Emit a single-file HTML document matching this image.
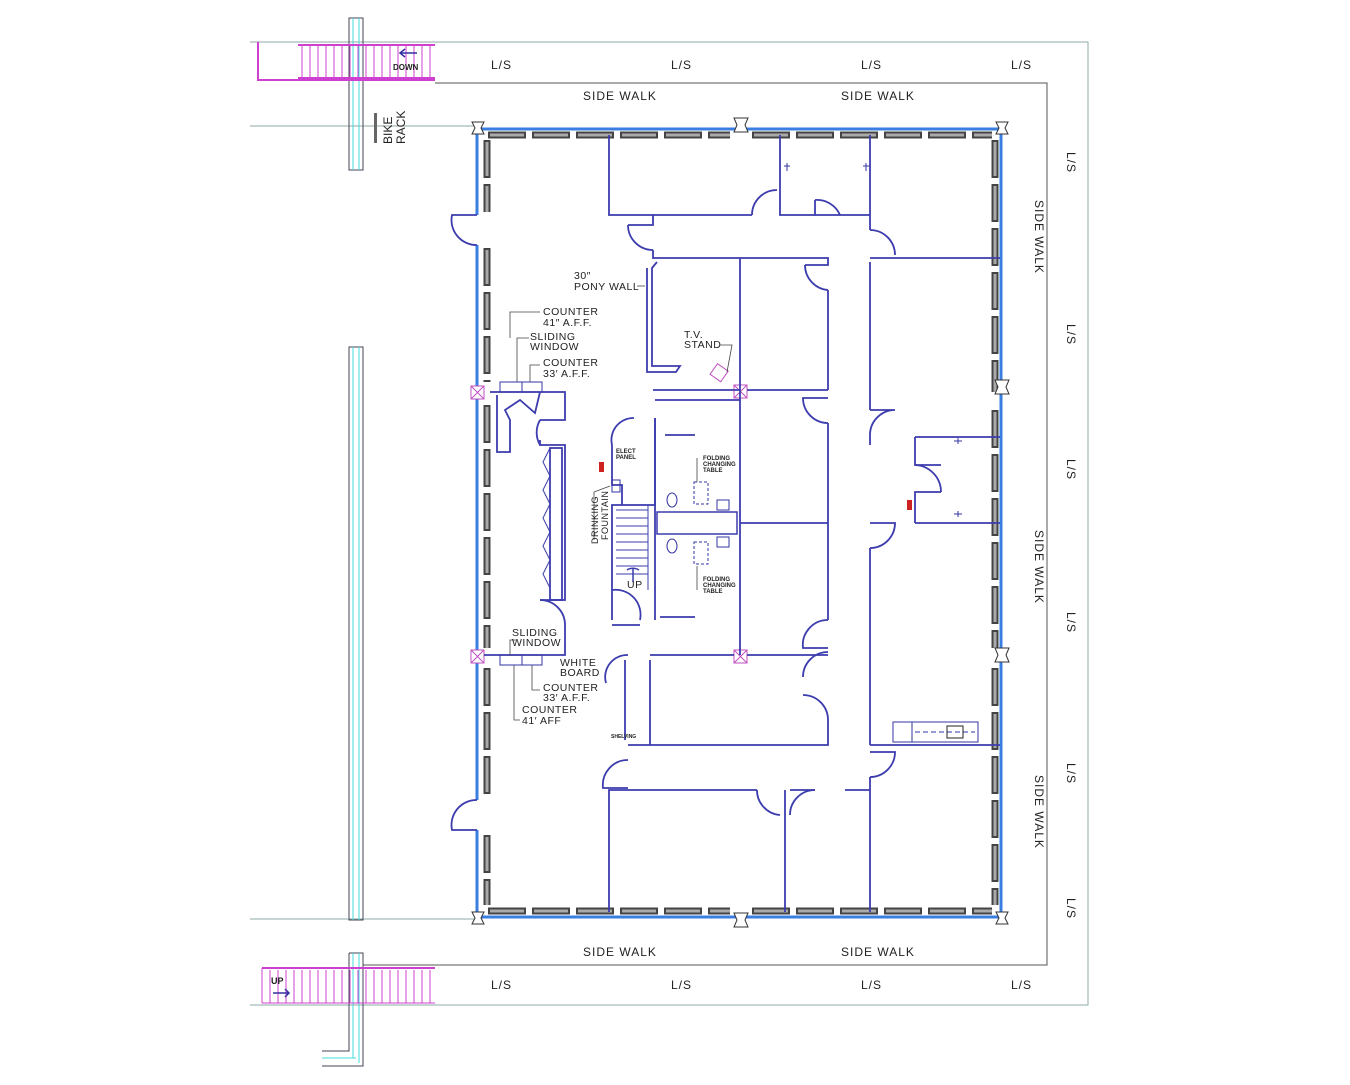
<!DOCTYPE html>
<html><head><meta charset="utf-8"><style>
html,body{margin:0;padding:0;background:#fff;}
svg text{font-family:"Liberation Sans",sans-serif;fill:#222;}
</style></head><body>
<svg width="1350" height="1080" viewBox="0 0 1350 1080" xmlns="http://www.w3.org/2000/svg">
<rect width="1350" height="1080" fill="#fff"/>
<g stroke="#8fa8a8" stroke-width="1" fill="none">
<polyline points="250,42 1088,42 1088,1005 250,1005"/>
<line x1="250" y1="126" x2="476" y2="126"/>
<line x1="250" y1="919" x2="476" y2="919"/>
</g>
<g stroke="#555" stroke-width="1" fill="none">
<polyline points="435,83 1047,83 1047,965 363,965"/>
</g>
<g stroke="#445" stroke-width="1" fill="none">
<rect x="349" y="18" width="14" height="152"/>
<rect x="349" y="347" width="14" height="573"/>
<polyline points="349,953 363,953 363,1066 322,1066"/>
<polyline points="349,953 349,1051 322,1051"/>
</g>
<g stroke="#4dd" stroke-width="1"><line x1="353" y1="18" x2="353" y2="170"/><line x1="359" y1="18" x2="359" y2="170"/>
<line x1="353" y1="347" x2="353" y2="920"/><line x1="359" y1="347" x2="359" y2="920"/>
<line x1="353" y1="953" x2="353" y2="1058"/><line x1="359" y1="953" x2="359" y2="1063"/><line x1="322" y1="1058" x2="356" y2="1058"/></g>
<g stroke="#d040d0" fill="none">
<polyline points="258,42 258,80 435,80" stroke-width="2"/>
<line x1="298" y1="45" x2="435" y2="45" stroke-width="2"/>
<line x1="298" y1="78" x2="435" y2="78" stroke-width="2"/>
<path d="M302,45V78M310,45V78M318,45V78M326,45V78M334,45V78M342,45V78M350,45V78M358,45V78M366,45V78M374,45V78M382,45V78M390,45V78M398,45V78M406,45V78M414,45V78M422,45V78M430,45V78" stroke-width="1"/>
<line x1="262" y1="968" x2="435" y2="968" stroke-width="2"/>
<line x1="262" y1="1003" x2="435" y2="1003" stroke-width="1"/>
<line x1="262" y1="968" x2="262" y2="1003"/>
<path d="M270,970V1003M278,970V1003M286,970V1003M294,970V1003M302,970V1003M310,970V1003M318,970V1003M326,970V1003M334,970V1003M342,970V1003M350,970V1003M358,970V1003M366,970V1003M374,970V1003M382,970V1003M390,970V1003M398,970V1003M406,970V1003M414,970V1003M422,970V1003M430,970V1003" stroke-width="1"/>
</g>
<g stroke="#3030a0" fill="none" stroke-width="1.5"><path d="M417,53H400M405,49L400,53L405,57"/><path d="M273,993H289M285,989L289,993L285,997"/></g>
<text x="393" y="70" font-size="8" font-weight="bold" font-family="Liberation Serif">DOWN</text>
<text x="271" y="984" font-size="9" font-weight="bold" font-family="Liberation Serif">UP</text>
<rect x="374" y="113" width="3" height="30" fill="#666"/>
<text transform="translate(392,144) rotate(-90)" font-size="12">BIKE</text>
<text transform="translate(405,144) rotate(-90)" font-size="12">RACK</text>
<g font-size="12" letter-spacing="1">
<text x="491" y="69">L/S</text><text x="671" y="69">L/S</text><text x="861" y="69">L/S</text><text x="1011" y="69">L/S</text>
<text x="491" y="989">L/S</text><text x="671" y="989">L/S</text><text x="861" y="989">L/S</text><text x="1011" y="989">L/S</text>
<text x="583" y="100">SIDE WALK</text><text x="841" y="100">SIDE WALK</text>
<text x="583" y="956">SIDE WALK</text><text x="841" y="956">SIDE WALK</text>
<text transform="translate(1067,152) rotate(90)">L/S</text>
<text transform="translate(1067,324) rotate(90)">L/S</text>
<text transform="translate(1067,459) rotate(90)">L/S</text>
<text transform="translate(1067,612) rotate(90)">L/S</text>
<text transform="translate(1067,763) rotate(90)">L/S</text>
<text transform="translate(1067,898) rotate(90)">L/S</text>
<text transform="translate(1035,200) rotate(90)">SIDE WALK</text>
<text transform="translate(1035,530) rotate(90)">SIDE WALK</text>
<text transform="translate(1035,775) rotate(90)">SIDE WALK</text>
</g>
<g stroke="#3a7ee0" stroke-width="3" fill="none">
<line x1="478" y1="129" x2="1002" y2="129"/>
<line x1="478" y1="917" x2="1002" y2="917"/>
<line x1="477" y1="129" x2="477" y2="215"/>
<line x1="477" y1="245" x2="477" y2="800"/>
<line x1="477" y1="830" x2="477" y2="917"/>
<line x1="1001" y1="129" x2="1001" y2="917"/>
</g>
<g fill="none">
<g stroke="#444" stroke-width="7" stroke-dasharray="38 6">
<line x1="488" y1="135" x2="730" y2="135"/><line x1="752" y1="135" x2="992" y2="135"/>
<line x1="488" y1="911" x2="730" y2="911"/><line x1="752" y1="911" x2="992" y2="911"/>
<line x1="487" y1="140" x2="487" y2="212"/><line x1="487" y1="248" x2="487" y2="382"/>
<line x1="487" y1="405" x2="487" y2="648"/><line x1="487" y1="668" x2="487" y2="796"/>
<line x1="487" y1="835" x2="487" y2="905"/>
<line x1="995" y1="140" x2="995" y2="392"/><line x1="995" y1="410" x2="995" y2="648"/>
<line x1="995" y1="668" x2="995" y2="905"/>
</g>
<g stroke="#aaa" stroke-width="3" stroke-dasharray="34 10" stroke-dashoffset="-2">
<line x1="488" y1="135" x2="730" y2="135"/><line x1="752" y1="135" x2="992" y2="135"/>
<line x1="488" y1="911" x2="730" y2="911"/><line x1="752" y1="911" x2="992" y2="911"/>
<line x1="487" y1="140" x2="487" y2="212"/><line x1="487" y1="248" x2="487" y2="382"/>
<line x1="487" y1="405" x2="487" y2="648"/><line x1="487" y1="668" x2="487" y2="796"/>
<line x1="487" y1="835" x2="487" y2="905"/>
<line x1="995" y1="140" x2="995" y2="392"/><line x1="995" y1="410" x2="995" y2="648"/>
<line x1="995" y1="668" x2="995" y2="905"/>
</g>
</g>
<g fill="#fff" stroke="#333" stroke-width="1">
<path d="M472,122h12l-3,6l3,6h-12l3,-6z"/><path d="M996,122h12l-3,6l3,6h-12l3,-6z"/>
<path d="M472,912h12l-3,6l3,6h-12l3,-6z"/><path d="M996,912h12l-3,6l3,6h-12l3,-6z"/>
<path d="M734,118h14l-3,7l3,7h-14l3,-7z"/><path d="M734,913h14l-3,7l3,7h-14l3,-7z"/>
<path d="M995,380h14l-3,7l3,7h-14l3,-7z"/><path d="M995,648h14l-3,7l3,7h-14l3,-7z"/>
</g>
<g fill="#fff" stroke="#c050c0" stroke-width="1">
<rect x="471" y="386" width="13" height="13"/><path d="M471,386l13,13M484,386l-13,13"/>
<rect x="471" y="650" width="13" height="13"/><path d="M471,650l13,13M484,650l-13,13"/>
<rect x="734" y="385" width="13" height="13"/><path d="M734,385l13,13M747,385l-13,13"/>
<rect x="734" y="650" width="13" height="13"/><path d="M734,650l13,13M747,650l-13,13"/>
<rect x="713" y="366" width="13" height="13" transform="rotate(35 719 372)"/>
</g>
<g stroke="#3c3cae" stroke-width="1.8" fill="none">
<polyline points="609,135 609,215 653,215 653,225 628,225"/>
<line x1="653" y1="215" x2="752" y2="215"/>
<polyline points="780,135 780,215 815,215"/>
<polyline points="815,200 815,215 870,215"/>
<line x1="870" y1="135" x2="870" y2="230"/>
<path d="M628,225a25,25 0 0 0 25,25M752,215a25,25 0 0 1 25,-25M815,200a25,25 0 0 1 25,15M870,230a25,25 0 0 1 25,25"/>
<path d="M477,215h-25a25,25 0 0 0 25,30M477,830h-25a25,25 0 0 1 25,-30"/>
<polyline points="653,250 653,258 828,258 828,265 805,265"/>
<path d="M805,265a25,25 0 0 0 23,25"/>
<line x1="740" y1="258" x2="740" y2="655"/>
<line x1="828" y1="290" x2="828" y2="390"/>
<polyline points="653,390 740,390"/><polyline points="747,390 828,390"/>
<path d="M828,398h-25a25,25 0 0 0 25,25"/>
<line x1="828" y1="423" x2="828" y2="620"/>
<line x1="740" y1="523" x2="828" y2="523"/>
<path d="M828,620a25,25 0 0 0 -25,28h25"/>
<polyline points="657,262 652,268 652,366 680,366 676,372 647,372 647,268"/>
<line x1="870" y1="262" x2="870" y2="410"/>
<line x1="870" y1="258" x2="1000" y2="258"/>
<path d="M870,410h25a25,25 0 0 0 -25,25M870,523h25a25,25 0 0 1 -25,25"/>
<line x1="870" y1="435" x2="870" y2="445"/><line x1="870" y1="548" x2="870" y2="745"/>
<line x1="915" y1="437" x2="1000" y2="437"/><line x1="915" y1="523" x2="1000" y2="523"/>
<polyline points="915,437 915,465 941,465"/><polyline points="941,492 915,492 915,523"/>
<path d="M915,465a27,27 0 0 1 26,27"/>
<polyline points="870,745 1000,745"/>
<path d="M870,752h25a25,25 0 0 1 -25,25"/>
<line x1="870" y1="777" x2="870" y2="912"/>
<polyline points="490,392 565,392 565,420 540,420"/>
<polyline points="540,440 540,445 565,445 565,600 540,600"/>
<path d="M540,420a25,25 0 0 0 0,25M540,600a25,25 0 0 1 25,25"/>
<polyline points="565,625 565,655 484,655"/>
<polyline points="497,395 497,452 510,452 510,420 505,410 520,400 535,413 540,392"/>
<rect x="550" y="448" width="12" height="152"/>
<polyline points="550,448 543,462 550,476 543,490 550,504 543,518 550,532 543,546 550,560 543,574 550,588" stroke-width="1"/>
<polyline points="612,620 612,505 655,505 655,418"/>
<path d="M612,445a22,22 0 0 1 22,-27V418"/>
<polyline points="612,445 612,485 622,485 622,505"/>
<polyline points="612,625 640,625"/>
<path d="M612,590a25,25 0 0 1 28,30"/>
<line x1="655" y1="418" x2="655" y2="620"/>
<line x1="665" y1="435" x2="695" y2="435"/>
<line x1="655" y1="400" x2="740" y2="400"/>
<rect x="657" y="512" width="80" height="22" stroke-width="1.5"/>
<line x1="660" y1="617" x2="695" y2="617"/>
<g stroke-width="1"><path d="M616,510H648M616,518H648M616,526H648M616,534H648M616,542H648M616,550H648M616,558H648M616,566H648M616,574H648"/>
<line x1="648" y1="505" x2="648" y2="590"/></g>
<path d="M627,570a8,5 0 0 1 12,0M633,568V582" stroke-width="1.5"/>
<polyline points="650,655 734,655"/><polyline points="747,655 828,655"/>
<path d="M650,660v85M628,655a22,22 0 0 0 -22,28"/>
<line x1="625" y1="660" x2="625" y2="740"/>
<polyline points="628,745 828,745 828,720"/>
<path d="M828,720a25,25 0 0 0 -25,-25M828,652a25,25 0 0 0 -25,25"/>
<path d="M628,760a25,25 0 0 0 -25,28h25"/>
<polyline points="609,912 609,790 757,790"/>
<polyline points="785,790 785,912"/><polyline points="790,790 815,790"/>
<line x1="845" y1="790" x2="870" y2="790"/>
<path d="M757,790a25,25 0 0 0 23,25M815,790a25,25 0 0 0 -25,25"/>
</g>
<g stroke="#3535a5" stroke-width="1" fill="none">
<rect x="893" y="722" width="85" height="20"/><line x1="912" y1="722" x2="912" y2="742"/>
<line x1="915" y1="732" x2="975" y2="732" stroke-dasharray="5 3"/>
<rect x="947" y="726" width="16" height="12" stroke="#222"/>
<rect x="500" y="382" width="22" height="10"/><rect x="522" y="382" width="20" height="10"/>
<rect x="500" y="655" width="22" height="10"/><rect x="522" y="655" width="20" height="10"/>
<rect x="694" y="482" width="14" height="22" stroke-dasharray="3 2"/>
<rect x="694" y="542" width="14" height="22" stroke-dasharray="3 2"/>
<rect x="717" y="500" width="12" height="10"/><rect x="717" y="537" width="12" height="10"/>
<ellipse cx="672" cy="500" rx="5" ry="7"/><ellipse cx="672" cy="546" rx="5" ry="7"/>
<rect x="612" y="480" width="8" height="12"/>
<path d="M784,166h6M787,163v8M863,166h6M866,163v8M954,441h8M958,438v6M954,514h8M958,511v6"/>
</g>
<g stroke="#444" stroke-width="0.8" fill="none">
<polyline points="510,338 510,312 540,312"/><polyline points="517,382 517,338 529,338"/>
<polyline points="530,382 530,365 540,365"/>
<polyline points="637,286 645,286"/>
<polyline points="720,345 732,345 727,372"/>
<polyline points="514,665 514,720 520,720"/><polyline points="532,665 532,690 540,690"/>
<polyline points="516,640 510,640 510,655"/>
<polyline points="594,540 594,492 610,486"/>
<polyline points="697,458 697,482"/><polyline points="697,566 697,590"/>
</g>
<rect x="599" y="462" width="5" height="10" fill="#c22"/>
<rect x="907" y="500" width="5" height="10" fill="#c22"/>
<g font-size="10.5" letter-spacing="0.5">
<text x="574" y="279">30″</text><text x="574" y="290">PONY WALL</text>
<text x="543" y="315">COUNTER</text><text x="543" y="326">41″ A.F.F.</text>
<text x="530" y="340">SLIDING</text><text x="530" y="350">WINDOW</text>
<text x="543" y="366">COUNTER</text><text x="543" y="377">33′ A.F.F.</text>
<text x="684" y="338">T.V.</text><text x="684" y="348">STAND</text>
<text x="512" y="636">SLIDING</text><text x="512" y="646">WINDOW</text>
<text x="560" y="666">WHITE</text><text x="560" y="676">BOARD</text>
<text x="543" y="691">COUNTER</text><text x="543" y="701">33′ A.F.F.</text>
<text x="522" y="713">COUNTER</text><text x="522" y="724">41′ AFF</text>
<text x="627" y="588">UP</text>
<text transform="translate(598,544) rotate(-90)" font-size="9">DRINKING</text>
<text transform="translate(608,540) rotate(-90)" font-size="9">FOUNTAIN</text>
</g>
<g font-size="6" font-weight="bold">
<text x="616" y="453">ELECT</text><text x="616" y="459">PANEL</text>
<text x="703" y="460">FOLDING</text><text x="703" y="466">CHANGING</text><text x="703" y="472">TABLE</text>
<text x="703" y="581">FOLDING</text><text x="703" y="587">CHANGING</text><text x="703" y="593">TABLE</text>
<text x="611" y="738" font-size="5">SHELVING</text>
</g>
</svg>
</body></html>
